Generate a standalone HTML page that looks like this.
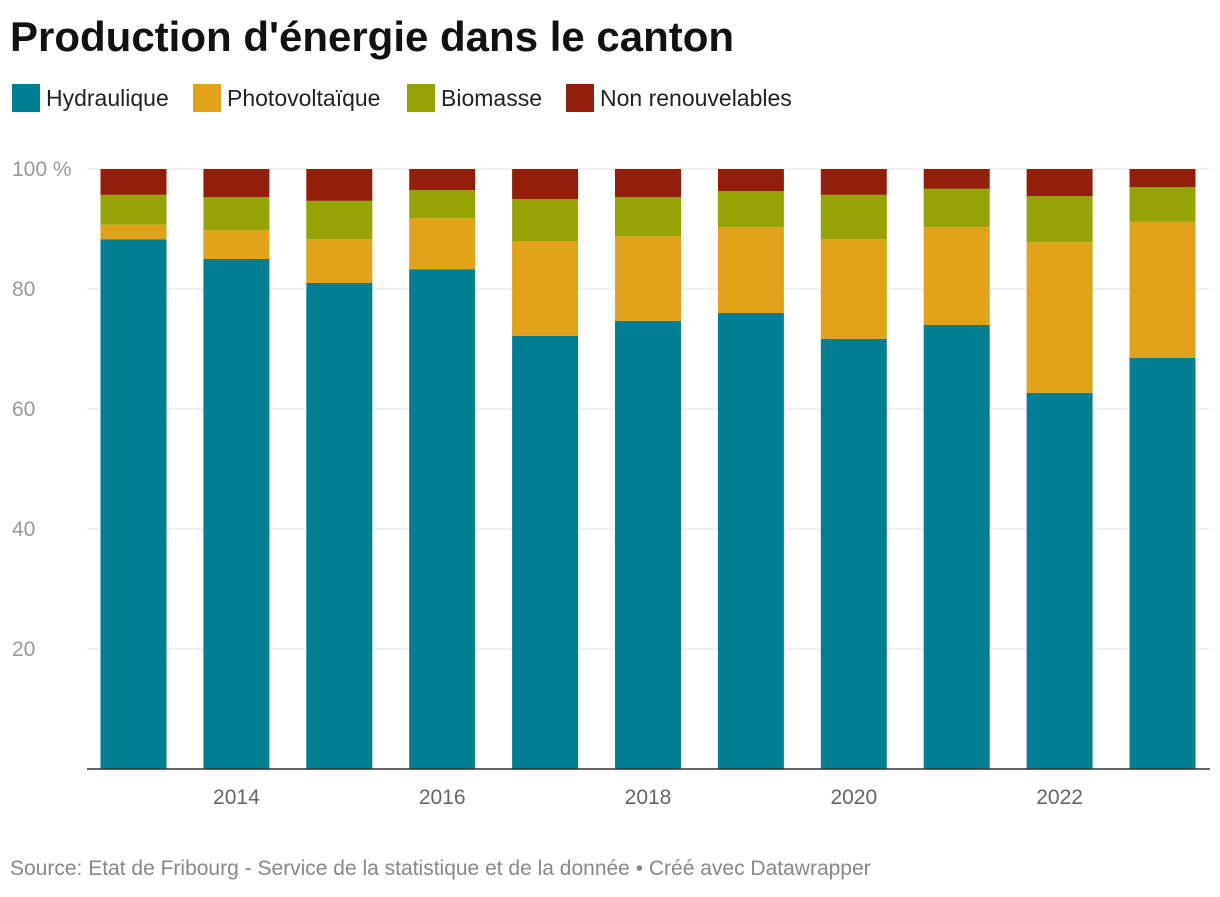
<!DOCTYPE html>
<html><head><meta charset="utf-8">
<style>
body{margin:0;background:#fff;width:1220px;height:892px;overflow:hidden;font-family:"Liberation Sans",sans-serif;}
</style></head>
<body>
<svg width="1220" height="892" xmlns="http://www.w3.org/2000/svg">
<text x="10" y="51" font-size="42" font-weight="bold" fill="#111" font-family="Liberation Sans, sans-serif">Production d'énergie dans le canton</text>
<g id="legend" font-size="23" fill="#222" font-family="Liberation Sans, sans-serif"></g>
<g id="grid"></g>
<g id="bars"></g>
<g id="yticks" font-size="21" fill="#999" font-family="Liberation Sans, sans-serif"></g>
<g id="xticks" font-size="21" fill="#666" font-family="Liberation Sans, sans-serif"></g>
<line x1="87" x2="1210" y1="769" y2="769" stroke="#333" stroke-width="1.5"/>
<text x="10" y="875" font-size="21" fill="#888" font-family="Liberation Sans, sans-serif">Source: Etat de Fribourg - Service de la statistique et de la donnée • Créé avec Datawrapper</text>
</svg>
<script>
const years=[2013,2014,2015,2016,2017,2018,2019,2020,2021,2022,2023];
const hydro=[88.3,85,81,83.3,72.2,74.7,76,71.7,74,62.7,68.5];
const pv=[2.4,4.8,7.3,8.5,15.8,14.1,14.3,16.6,16.3,25.1,22.7];
const bio=[5,5.5,6.4,4.7,7,6.5,6,7.4,6.4,7.7,5.8];
const nonRenew=[4.3,4.7,5.3,3.5,5,4.7,3.7,4.3,3.3,4.5,3];
const seriesNames=["Hydraulique","Photovoltaïque","Biomasse","Non renouvelables"];
const colors=["#007f93","#e1a118","#95a305","#921e0b"];
const yTicks=[0,20,40,60,80,100];
const xTickYears=[2014,2016,2018,2020,2022];
const NS="http://www.w3.org/2000/svg";
const y=v=>769-v*6;
const x0=133.5, step=102.9, bw=66;
const x=yr=>x0+(yr-years[0])*step;
function mk(tag,attrs,parent){const e=document.createElementNS(NS,tag);for(const k in attrs)e.setAttribute(k,attrs[k]);parent.appendChild(e);return e;}
const lg=document.getElementById('legend');
const lx=[12,193,407,566];
seriesNames.forEach((n,i)=>{
  const r=mk('rect',{x:lx[i],y:84,width:28,height:28,fill:colors[i]},lg);
  
  
  const t=mk('text',{x:lx[i]+34,y:106},lg);t.textContent=n;
  
  
});
const g=document.getElementById('grid'),yt=document.getElementById('yticks');
yTicks.forEach(v=>{
  if(v>0){const l=mk('line',{x1:87,x2:1210,y1:y(v),y2:y(v),stroke:'#e3e3e3','stroke-width':1},g);
  
  
  const t=mk('text',{x:12,y:y(v)+7},yt);t.textContent=v===100?'100 %':v;
  
  }
});
const b=document.getElementById('bars');
const series=[hydro,pv,bio,nonRenew];
years.forEach((yr,i)=>{
  let cum=0;
  series.forEach((s,k)=>{
    const v=s[i];
    const r=mk('rect',{x:x(yr)-bw/2,y:y(cum+v),width:bw,height:v*6,fill:colors[k]},b);
    
    
    cum+=v;
  });
});
const xt=document.getElementById('xticks');
xTickYears.forEach(yr=>{
  const t=mk('text',{x:x(yr),y:804,'text-anchor':'middle'},xt);t.textContent=yr;
  
  
});
</script>
</body></html>
